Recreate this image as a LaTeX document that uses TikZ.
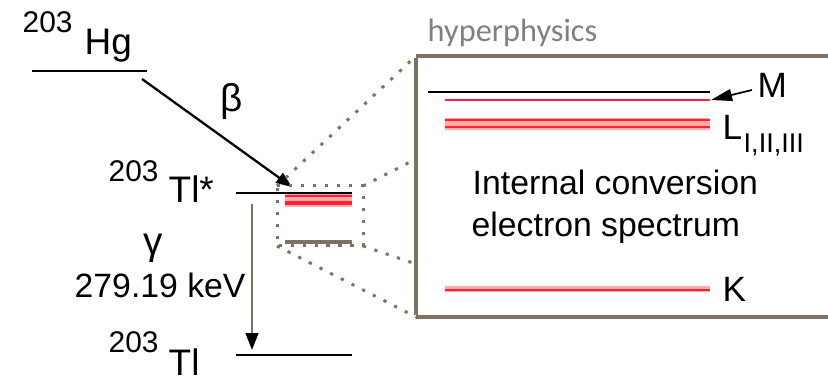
\documentclass[tikz,border=0pt]{standalone}
\usepackage{fontspec}
\setmainfont{Liberation Sans}
\newfontfamily\hpfont{Carlito}
\usetikzlibrary{arrows.meta,positioning}
\definecolor{framegray}{RGB}{125,115,98}
\definecolor{linered}{RGB}{255,30,60}
\definecolor{linepink}{RGB}{255,172,162}

\begin{document}
\begin{tikzpicture}[x=0.01cm, y=-0.01cm,
  level/.style={line width=0.65pt},
  lbl/.style={font=\fontsize{9.6}{11}\selectfont, inner sep=0pt, anchor=base west},
  mass/.style={font=\fontsize{8.5}{10}\selectfont, inner sep=0pt, anchor=base west},
  elem/.style={font=\fontsize{10.5}{12}\selectfont, inner sep=0pt, anchor=base west},
  greek/.style={font=\fontsize{11}{13}\selectfont, inner sep=0pt},
  shell/.style={font=\fontsize{10}{12}\selectfont, inner sep=0pt, anchor=base west},
  proj/.style={framegray, line width=0.85pt, dash pattern=on 0.9pt off 2.5pt},
  redline/.style={linered, line width=0.8pt},
  decay/.style={line width=0.65pt, -{Triangle[length=4.5pt, width=3.4pt]}},
]
  \useasboundingbox (0,0) rectangle (828,377);

  % Energy levels
  \coordinate (hgL) at (32,71);   \coordinate (hgR) at (147,71);
  \coordinate (tlsL) at (236,193); \coordinate (tlsR) at (352,193);
  \coordinate (tlL) at (236,355);  \coordinate (tlR) at (352,355);
  \draw[level] (hgL) -- (hgR);
  \draw[level] (tlsL) -- (tlsR);
  \draw[level] (tlL) -- (tlR);

  \node[mass] (hgA) at (22,33) {203};
  \node[elem] (hg) at (84,55) {Hg};
  \node[mass] (tlsA) at (108,182) {203};
  \node[elem] (tls) at (168,203) {Tl*};
  \node[mass] (tlA) at (108,353) {203};
  \node[elem] (tl) at (168,376) {Tl};

  % Decays
  \coordinate (betaS) at (142,79);  \coordinate (betaE) at (292,187);
  \coordinate (gamS) at (252,204);  \coordinate (gamE) at (252,350);
  \draw[decay] (betaS) -- (betaE);
  \draw[decay, framegray, -{Triangle[length=4.8pt, width=3.6pt, black]}]
    (gamS) -- (gamE);
  \node[greek] (beta) at (232,102) {β};
  \node[greek] (gamma) at (153,248) {γ};
  \node[lbl] (energy) at (74,298) {279.19 keV};

  % Zoomed region
  \coordinate (zTL) at (277,186); \coordinate (zTR) at (363,186);
  \coordinate (zBL) at (277,246); \coordinate (zBR) at (363,246);
  \fill[linepink] (285,194) rectangle (352,207);
  \draw[redline, line width=0.6pt] (285,196) -- (352,196);
  \draw[redline, line width=1pt] (285,203) -- (352,203);
  \draw[framegray, line width=0.9pt] (285,242) -- (352,242);
  \draw[proj] (zTL) -- (zTR) -- (zBR) -- (zBL) -- cycle;

  % Spectrum box (open to the right)
  \coordinate (bTL) at (416,56);  \coordinate (bBL) at (416,317);
  \coordinate (bA) at (416,159);  \coordinate (bB) at (416,264);
  \coordinate (bTR) at (828,56);  \coordinate (bBR) at (828,317);
  \draw[framegray, line width=1.3pt] (bTL) -- (bTR);
  \draw[framegray, line width=1.3pt] (bBL) -- (bBR);
  \draw[framegray, line width=1.3pt] ([yshift=-0.65pt]bTL) -- ([yshift=0.65pt]bBL);
  \draw[proj] (zTL) -- (bTL);
  \draw[proj] (zTR) -- (bA);
  \draw[proj] (zBL) -- (bBL);
  \draw[proj] (zBR) -- (bB);

  % Shell lines
  \draw[level] (428,92) -- (710,92);
  \draw[redline, line width=0.6pt] (445,100) -- (710,100);
  \fill[linepink] (445,118) rectangle (710,130);
  \draw[redline] (445,120) -- (710,120);
  \draw[redline] (445,127) -- (710,127);
  \fill[linepink] (445,286) rectangle (710,292);
  \draw[redline] (445,290) -- (710,290);

  \node[shell] (mshell) at (757,98) {M};
  \node[shell] (lshell) at (722,140) {L};
  \node[font=\fontsize{7.7}{9}\selectfont, inner sep=0pt, anchor=base west]
    (lsub) at (743,153) {I,II,III};
  \node[shell] (kshell) at (722,302) {K};
  \coordinate (mTail) at (752,90); \coordinate (mTip) at (711,100);
  \draw[line width=0.5pt, -{Triangle[length=6pt, width=3.4pt]}] (mTail) -- (mTip);

  \node[lbl] (ic1) at (472,195) {Internal conversion};
  \node[lbl] (ic2) at (471,237) {electron spectrum};

  % Watermark
  \node[font=\hpfont\fontsize{9.2}{11}\selectfont, text=gray, inner sep=0pt,
    anchor=base west] (hp) at (427,42) {hyperphysics};
\end{tikzpicture}
\end{document}
